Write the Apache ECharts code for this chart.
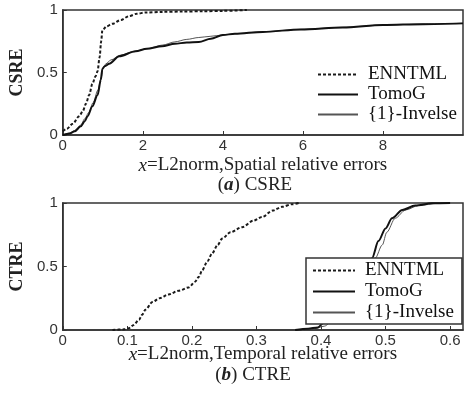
<!DOCTYPE html>
<html>
<head>
<meta charset="utf-8">
<script src="https://cdn.jsdelivr.net/npm/echarts@6/dist/echarts.min.js"></script>
<style>
  html, body { margin: 0; padding: 0; background: #fff; }
  #chart { width: 469px; height: 395px; }
</style>
</head>
<body>
<div id="chart"></div>
<script>
// Cumulative distributions of the relative errors, one array of [x, F(x)] per method.
const seriesNames = ['ENNTML', 'TomoG', '{1}-Invelse'];

// (a) spatial relative errors
const csreENNTML = [[0,0.03],[0.1,0.05],[0.25,0.09],[0.41,0.15],[0.5,0.19],[0.58,0.25],[0.66,0.32],[0.74,0.41],[0.82,0.47],[0.87,0.51],[0.92,0.62],[0.96,0.75],[0.99,0.84],[1.1,0.87],[1.24,0.89],[1.45,0.92],[1.65,0.95],[1.85,0.97],[2.07,0.98],[2.5,0.985],[3,0.988],[3.5,0.99],[4,0.993],[4.6,1]];
const csreTomoG = [[0,0],[0.17,0.013],[0.3,0.03],[0.45,0.07],[0.55,0.11],[0.62,0.15],[0.74,0.23],[0.87,0.32],[0.95,0.44],[0.99,0.53],[1.05,0.55],[1.16,0.57],[1.41,0.63],[1.82,0.67],[2.1,0.69],[2.48,0.71],[2.8,0.73],[3.1,0.74],[3.4,0.745],[3.7,0.77],[4.0,0.8],[4.3,0.81],[5,0.825],[5.95,0.845],[7,0.86],[8,0.88],[9,0.887],[10,0.893]];
const csreInvelse = [[0,0],[0.17,0.015],[0.3,0.035],[0.45,0.08],[0.55,0.13],[0.65,0.18],[0.76,0.26],[0.88,0.36],[0.96,0.46],[1.01,0.54],[1.08,0.57],[1.2,0.6],[1.45,0.64],[1.8,0.67],[2.1,0.69],[2.5,0.72],[2.8,0.745],[3.1,0.765],[3.4,0.78],[3.7,0.79],[4.0,0.8],[4.3,0.81],[5,0.826],[6,0.846],[7,0.862],[8,0.879],[9,0.888],[10,0.894]];

// (b) temporal relative errors
const ctreENNTML = [[0.077,0],[0.095,0.005],[0.102,0.013],[0.11,0.04],[0.118,0.08],[0.123,0.12],[0.128,0.16],[0.139,0.22],[0.15,0.25],[0.164,0.28],[0.18,0.31],[0.195,0.335],[0.205,0.38],[0.211,0.42],[0.216,0.47],[0.224,0.54],[0.231,0.6],[0.24,0.67],[0.247,0.72],[0.26,0.77],[0.278,0.81],[0.295,0.86],[0.309,0.89],[0.325,0.94],[0.34,0.97],[0.355,0.99],[0.366,1]];
const ctreTomoG = [[0.36,0],[0.38,0.01],[0.395,0.02],[0.405,0.06],[0.42,0.12],[0.44,0.25],[0.46,0.4],[0.479,0.565],[0.489,0.7],[0.5,0.8],[0.51,0.88],[0.526,0.945],[0.546,0.98],[0.572,0.998],[0.6,1]];
const ctreInvelse = [[0.37,0],[0.39,0.01],[0.405,0.03],[0.42,0.08],[0.44,0.2],[0.46,0.35],[0.484,0.565],[0.495,0.67],[0.502,0.77],[0.515,0.88],[0.531,0.945],[0.551,0.98],[0.582,0.998],[0.6,1]];

// axis ranges and tick spacing
const csreXMax = 10, csreXStep = 2;
const ctreXMax = 0.62, ctreXStep = 0.1;
const yStep = 0.5;

const SERIF = '"Liberation Serif", "Times New Roman", serif';
const SANS = '"Liberation Sans", Arial, sans-serif';
const INK = '#222';

const lineStyles = [
  { color: '#1a1a1a', width: 2, type: [3, 2] },
  { color: '#111', width: 2, type: 'solid' },
  { color: '#555', width: 1, type: 'solid' }
];

function xAxisFor(gridIndex, max, step, label, gap) {
  return {
    type: 'value', gridIndex, min: 0, max, interval: step,
    axisLine: { show: true, onZero: false, lineStyle: { color: '#333', width: 1.5 } },
    axisTick: { show: true, inside: true, length: 4, lineStyle: { color: '#333', width: 1 } },
    axisLabel: { color: '#333', fontFamily: SANS, fontSize: 15, margin: 3, showMaxLabel: false },
    splitLine: { show: false },
    name: '{i|x}{n|=L2norm,' + label + ' relative errors}',
    nameLocation: 'middle',
    nameGap: gap,
    nameMoveOverlap: false,
    nameTextStyle: {
      rich: {
        i: { fontFamily: SERIF, fontSize: 19, fontStyle: 'italic', color: INK },
        n: { fontFamily: SERIF, fontSize: 19, color: INK }
      }
    }
  };
}

function yAxisFor(gridIndex, title) {
  return {
    type: 'value', gridIndex, min: 0, max: 1, interval: yStep,
    axisLine: { show: true, lineStyle: { color: '#333', width: 1.5 } },
    axisTick: { show: true, inside: true, length: 4, lineStyle: { color: '#333', width: 1 } },
    axisLabel: { color: '#333', fontFamily: SANS, fontSize: 15, margin: 5 },
    splitLine: { show: false },
    name: title,
    nameLocation: 'middle',
    nameRotate: 90,
    nameGap: 29,
    nameTextStyle: { fontFamily: SERIF, fontSize: 18, fontWeight: 'bold', color: INK }
  };
}

function makeSeries(data, idx, axisIndex) {
  return {
    name: seriesNames[idx],
    type: 'line',
    xAxisIndex: axisIndex, yAxisIndex: axisIndex,
    data,
    symbol: 'none',
    smooth: 0.3,
    smoothMonotone: 'x',
    lineStyle: lineStyles[idx],
    itemStyle: { color: lineStyles[idx].color },
    z: 3 - idx
  };
}

const legendText = { fontFamily: SERIF, fontSize: 19, color: '#111', padding: [0, 0, 0, 5] };
// legend keys show the line only, no marker
const keyMarker = { opacity: 0 };

const caption = (letter, rest, x, y) => ({
  type: 'text', x, y,
  style: {
    text: '({i|' + letter + '}) ' + rest, textAlign: 'center', textVerticalAlign: 'middle',
    font: '19px ' + SERIF, fill: INK,
    rich: { i: { fontFamily: SERIF, fontSize: 19, fontStyle: 'italic', fontWeight: 'bold', color: INK } }
  }
});

const option = {
  backgroundColor: '#fff',
  animation: false,
  grid: [
    { left: 60, top: 10, right: 6, height: 125, show: true, borderColor: '#333', borderWidth: 1.5 },
    { left: 60, top: 203, right: 6, height: 127, show: true, borderColor: '#333', borderWidth: 1.5 }
  ],
  xAxis: [
    xAxisFor(0, csreXMax, csreXStep, 'Spatial', 21),
    xAxisFor(1, ctreXMax, ctreXStep, 'Temporal', 15)
  ],
  yAxis: [
    yAxisFor(0, 'CSRE'),
    yAxisFor(1, 'CTRE')
  ],
  legend: [
    {
      orient: 'vertical', left: 317, top: 65, padding: 0,
      itemWidth: 40, itemHeight: 14, itemGap: 1,
      data: seriesNames, textStyle: legendText, itemStyle: keyMarker,
      selectedMode: false
    },
    {
      orient: 'vertical', left: 306, top: 258, padding: [3, 8, 2, 6],
      itemWidth: 42, itemHeight: 14, itemGap: 2,
      borderColor: '#333', borderWidth: 1.5, backgroundColor: '#fff',
      data: seriesNames, textStyle: legendText, itemStyle: keyMarker,
      selectedMode: false
    }
  ],
  graphic: [
    caption('a', 'CSRE', 255, 185),
    caption('b', 'CTRE', 253, 375)
  ],
  series: [
    makeSeries(csreENNTML, 0, 0),
    makeSeries(csreTomoG, 1, 0),
    makeSeries(csreInvelse, 2, 0),
    makeSeries(ctreENNTML, 0, 1),
    makeSeries(ctreTomoG, 1, 1),
    makeSeries(ctreInvelse, 2, 1)
  ]
};

const chart = echarts.init(document.getElementById('chart'), null, { renderer: 'canvas' });
chart.setOption(option);
</script>
</body>
</html>
